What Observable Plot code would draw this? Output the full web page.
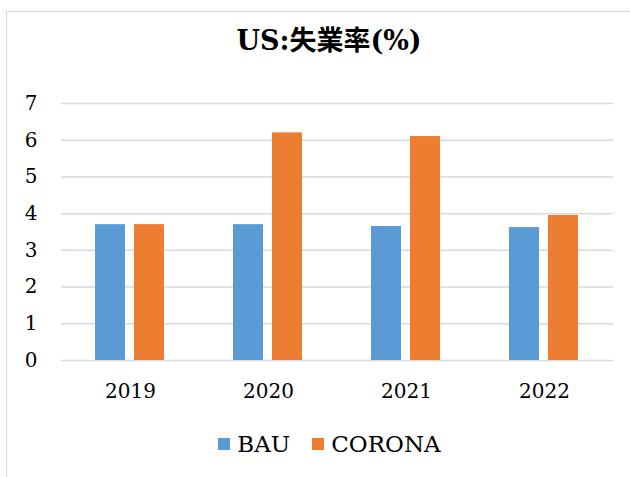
<!DOCTYPE html>
<html>
<head>
<meta charset="utf-8">
<script src="https://cdn.jsdelivr.net/npm/d3@7"></script>
<script src="https://cdn.jsdelivr.net/npm/@observablehq/plot@0.6"></script>
<style>
  html, body { margin: 0; padding: 0; background: #fff; }
  #wrap { position: relative; width: 630px; height: 477px; overflow: hidden; background: #fff;
          font-family: "DejaVu Serif", "Noto Sans CJK JP", serif; color: #000; }
  #frame { position: absolute; left: 6px; top: 11px; width: 700px; height: 520px;
           border: 1.5px solid #d9d9d9; box-sizing: border-box; }
  #title { position: absolute; left: 0; width: 658px; top: 25px; text-align: center;
           font-size: 27px; line-height: 32px; font-weight: bold; }
  #chart { position: absolute; left: 0; top: 0; }
  #legend { position: absolute; left: 0; width: 659px; top: 431px; display: flex;
            justify-content: center; align-items: center; font-size: 23px; line-height: 26px; }
  .item { display: flex; align-items: center; margin: 0 11px; }
  .sw { width: 12px; height: 12px; margin-right: 7px; }
</style>
</head>
<body>
<div id="wrap">
  <div id="frame"></div>
  <div id="chart"></div>
  <div id="title"></div>
  <div id="legend"></div>
</div>
<script>
const title = "US:失業率(%)";
const years = ["2019", "2020", "2021", "2022"];
const series = ["BAU", "CORONA"];
const bau = [3.7, 3.7, 3.65, 3.62];
const corona = [3.7, 6.2, 6.1, 3.95];
const yTicks = [0, 1, 2, 3, 4, 5, 6, 7];
const colors = ["#5b9bd5", "#ed7d31"];

const rows = [];
years.forEach((y, i) => {
  rows.push({year: y, series: series[0], value: bau[i]});
  rows.push({year: y, series: series[1], value: corona[i]});
});

const chart = Plot.plot({
  width: 630,
  height: 410,
  marginLeft: 60,
  marginRight: 17,
  marginTop: 103,
  marginBottom: 50,
  style: {fontFamily: "'DejaVu Serif', serif", fontSize: "20px", color: "#000", background: "transparent"},
  fx: {domain: years, padding: 0, axis: "bottom", tickSize: 0, tickPadding: 23, label: null},
  x: {domain: series, axis: null, paddingInner: 0.225, paddingOuter: 0.84375},
  y: {domain: [0, 7], ticks: yTicks, tickFormat: d3.format("d"), tickSize: 0, tickPadding: 24, label: null},
  color: {domain: series, range: colors},
  marks: [
    Plot.ruleY(yTicks, {stroke: "#d9d9d9", strokeWidth: 1.5}),
    Plot.barY(rows, {fx: "year", x: "series", y: "value", fill: "series"})
  ]
});
document.getElementById("chart").appendChild(chart);

document.getElementById("title").textContent = title;
const legend = document.getElementById("legend");
series.forEach((s, i) => {
  const it = document.createElement("div");
  it.className = "item";
  const sw = document.createElement("div");
  sw.className = "sw";
  sw.style.background = colors[i];
  const t = document.createElement("span");
  t.textContent = s;
  it.appendChild(sw);
  it.appendChild(t);
  legend.appendChild(it);
});
</script>
</body>
</html>
